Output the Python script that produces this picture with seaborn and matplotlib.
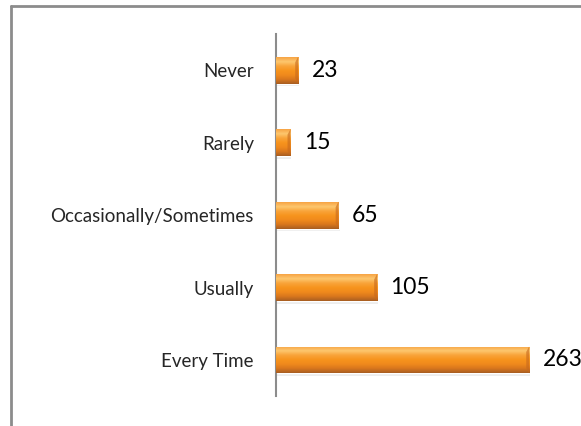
"""Survey frequency responses as bevelled orange horizontal bars."""
import matplotlib.pyplot as plt
import matplotlib.patches as mpatches
import numpy as np
import pandas as pd
import seaborn as sns
from matplotlib.colors import LinearSegmentedColormap

categories = ["Never", "Rarely", "Occasionally/Sometimes", "Usually", "Every Time"]
counts = [23, 15, 65, 105, 263]

df = pd.DataFrame({"Response": categories, "Count": counts})

sns.set_style("white")
plt.rcParams["font.family"] = ["Lato", "DejaVu Sans"]

fig = plt.figure(figsize=(5.81, 4.26), dpi=100)
ax = fig.add_axes([0.475, 0.07, 0.497, 0.85])

sns.barplot(data=df, x="Count", y="Response", color="#F7941D", width=0.37,
            orient="h", ax=ax, zorder=2)

# vertical gradient to fake the bevelled look
grad = LinearSegmentedColormap.from_list(
    "bevel", ["#F7A445", "#FDC76E", "#F9A43A", "#F7941D", "#F08A1C", "#D9771D", "#A85E22"])
vals = np.linspace(0, 1, 64).reshape(-1, 1)
for p in ax.patches:
    x0, y0 = p.get_x(), p.get_y()
    w, h = p.get_width(), p.get_height()
    # soft shadow below each bar
    ax.add_patch(mpatches.Rectangle((x0, y0 + h * 0.1), w + 1.0, h,
                                    color="#000000", alpha=0.07, lw=0, zorder=1))
    im = ax.imshow(vals, cmap=grad, aspect="auto", extent=(x0, x0 + w, y0 + h, y0),
                   zorder=3)
    im.set_clip_path(p)
    # darker bevel at the end of the bar
    cap = min(3.0, w * 0.3)
    ax.add_patch(mpatches.Polygon(
        [(x0 + w, y0), (x0 + w, y0 + h), (x0 + w - cap, y0 + h * 0.8),
         (x0 + w - cap, y0 + h * 0.2)],
        closed=True, color="#C7691C", alpha=0.6, lw=0, zorder=4))
    ax.text(x0 + w + 14, y0 + h / 2, str(int(w)), va="center", ha="left",
            fontsize=16.5, color="black")

ax.set_xlim(0, 300)
ax.set_ylim(4.5, -0.5)
ax.set_xlabel("")
ax.set_ylabel("")
ax.set_xticks([])
ax.tick_params(axis="y", length=0, labelsize=13.5, pad=16)
for s in ["top", "right", "bottom"]:
    ax.spines[s].set_visible(False)
ax.spines["left"].set_color("#8C8C8C")
ax.spines["left"].set_linewidth(1.5)

# chart frame (top and left edges visible)
fig.add_artist(plt.Line2D([10.5 / 581, 1], [1 - 6 / 426, 1 - 6 / 426],
                          color="#8C8C8C", lw=2, transform=fig.transFigure))
fig.add_artist(plt.Line2D([10.5 / 581, 10.5 / 581], [0, 1 - 6 / 426],
                          color="#8C8C8C", lw=2, transform=fig.transFigure))

fig.savefig("out.png", dpi=100)
